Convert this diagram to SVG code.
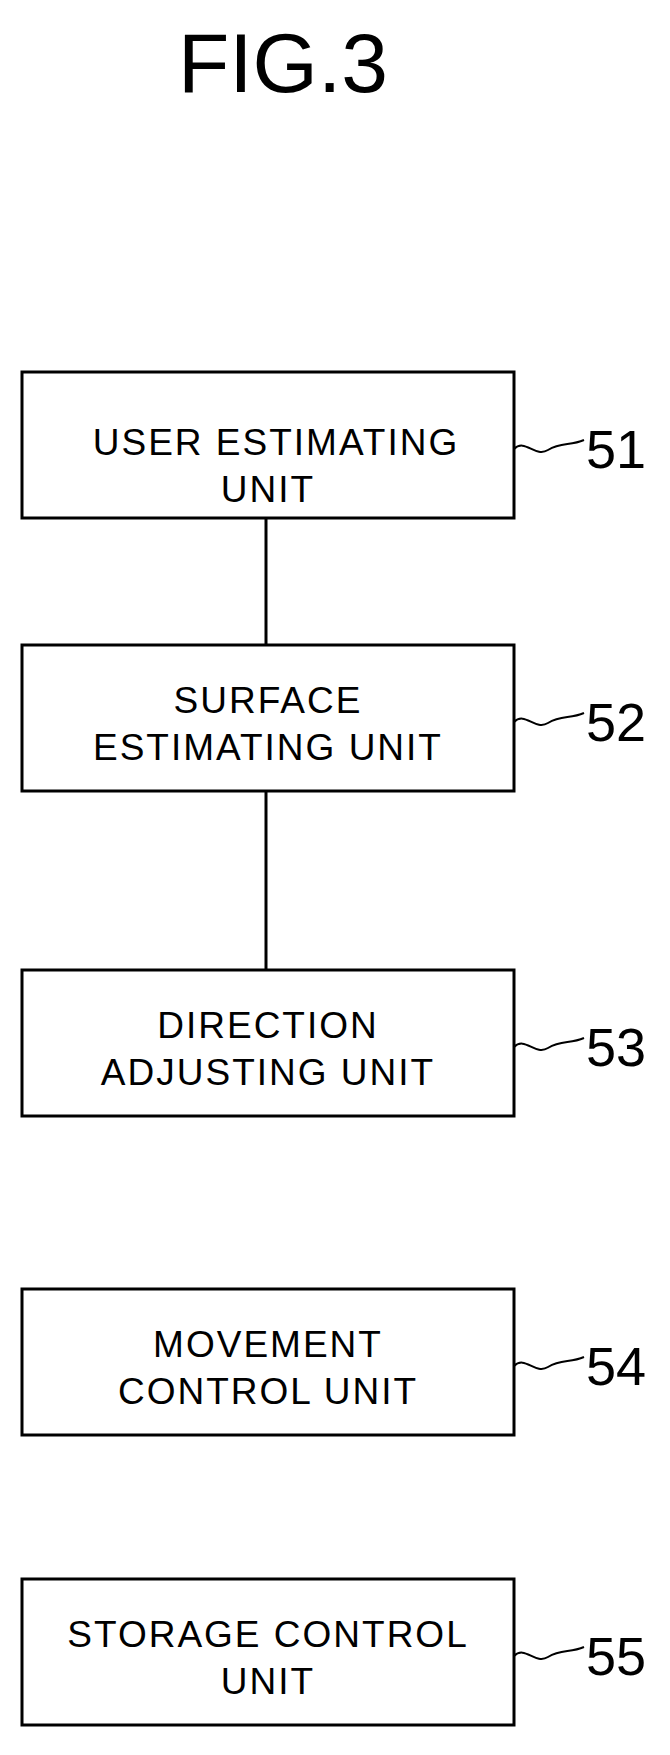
<svg xmlns="http://www.w3.org/2000/svg" width="670" height="1755" viewBox="0 0 670 1755">
<style>
.box{fill:#fff;stroke:#000;stroke-width:3}
.t{font-family:"Liberation Sans",Arial,sans-serif;font-size:37px;letter-spacing:2px;text-anchor:middle;fill:#000}
.n{font-family:"Liberation Sans",Arial,sans-serif;font-size:54px;fill:#000}
.sq{fill:none;stroke:#000;stroke-width:2}
line{stroke:#000;stroke-width:3}
</style>
<rect width="670" height="1755" fill="#fff"/>
<text x="283" y="92" font-family="Liberation Sans,Arial,sans-serif" font-size="84" text-anchor="middle">FIG.3</text>
<g id="connectors">
<line x1="266" y1="518" x2="266" y2="645"/>
<line x1="266" y1="791" x2="266" y2="970"/>
</g>
<g id="n51">
<rect class="box" x="22" y="372" width="492" height="146"/>
<text class="t" x="276" y="455">USER ESTIMATING</text>
<text class="t" x="268" y="502">UNIT</text>
<path class="sq" d="M514 449 C525 438,535 458,548 450 S570 446,584 440"/>
<text class="n" x="586" y="468">51</text>
</g>
<g id="n52">
<rect class="box" x="22" y="645" width="492" height="146"/>
<text class="t" x="268" y="713">SURFACE</text>
<text class="t" x="268" y="760">ESTIMATING UNIT</text>
<path class="sq" d="M514 722 C525 711,535 731,548 723 S570 719,584 713"/>
<text class="n" x="586" y="741">52</text>
</g>
<g id="n53">
<rect class="box" x="22" y="970" width="492" height="146"/>
<text class="t" x="268" y="1038">DIRECTION</text>
<text class="t" x="268" y="1085">ADJUSTING UNIT</text>
<path class="sq" d="M514 1047 C525 1036,535 1056,548 1048 S570 1044,584 1038"/>
<text class="n" x="586" y="1066">53</text>
</g>
<g id="n54">
<rect class="box" x="22" y="1289" width="492" height="146"/>
<text class="t" x="268" y="1357">MOVEMENT</text>
<text class="t" x="268" y="1404">CONTROL UNIT</text>
<path class="sq" d="M514 1366 C525 1355,535 1375,548 1367 S570 1363,584 1357"/>
<text class="n" x="586" y="1385">54</text>
</g>
<g id="n55">
<rect class="box" x="22" y="1579" width="492" height="146"/>
<text class="t" x="268" y="1647">STORAGE CONTROL</text>
<text class="t" x="268" y="1694">UNIT</text>
<path class="sq" d="M514 1656 C525 1645,535 1665,548 1657 S570 1653,584 1647"/>
<text class="n" x="586" y="1675">55</text>
</g>
</svg>
